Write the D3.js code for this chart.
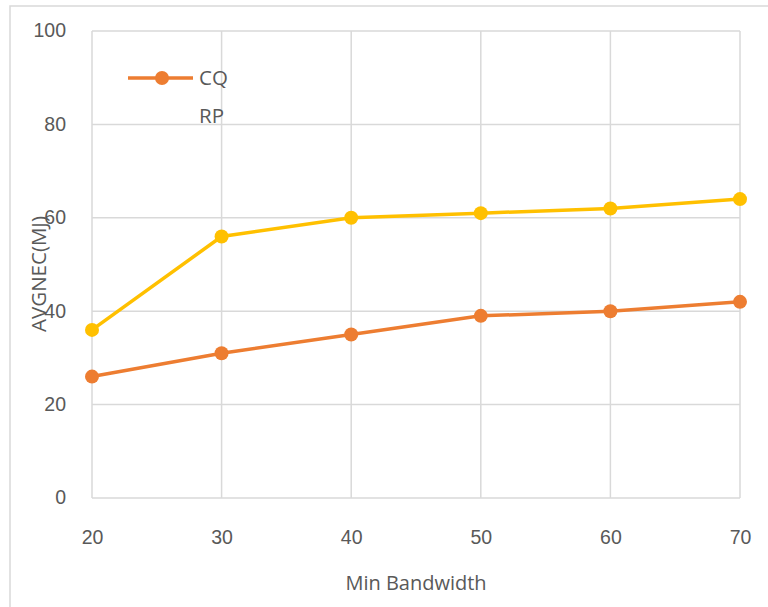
<!DOCTYPE html>
<html>
<head>
<meta charset="utf-8">
<script src="https://cdn.jsdelivr.net/npm/d3@7"></script>
<style>
  body { margin: 0; background: #fff; }
  svg { display: block; font-family: 'Open Sans', 'Liberation Sans', sans-serif; }
  .tick text { fill: #595959; font-size: 19.5px; }
</style>
</head>
<body>
<svg id="chart"></svg>
<script>
// data
const bandwidth = [20, 30, 40, 50, 60, 70];
const cq = [26, 31, 35, 39, 40, 42];
const rp = [36, 56, 60, 61, 62, 64];
const yTicks = [0, 20, 40, 60, 80, 100];

const W = 768, H = 607;
const svg = d3.select('#chart').attr('width', W).attr('height', H);

const margin = {top: 31, right: 28, bottom: 109, left: 92},
    width = W - margin.left - margin.right,
    height = H - margin.top - margin.bottom;

// outer chart frame
svg.append('rect')
  .attr('x', 10).attr('y', 6)
  .attr('width', W + 20).attr('height', H + 20)
  .attr('fill', 'none')
  .attr('stroke', '#d9d9d9')
  .attr('stroke-width', 1.5);

const g = svg.append('g')
  .attr('transform', 'translate(' + margin.left + ',' + margin.top + ')');

const x = d3.scaleLinear().domain([20, 70]).range([0, width]);
const y = d3.scaleLinear().domain([0, 100]).range([height, 0]);

// gridlines
g.append('g')
  .selectAll('line.hgrid')
  .data(yTicks)
  .enter().append('line')
  .attr('x1', 0).attr('x2', width)
  .attr('y1', d => y(d)).attr('y2', d => y(d))
  .attr('stroke', '#d9d9d9').attr('stroke-width', 1.5);

g.append('g')
  .selectAll('line.vgrid')
  .data(bandwidth)
  .enter().append('line')
  .attr('y1', 0).attr('y2', height)
  .attr('x1', d => x(d)).attr('x2', d => x(d))
  .attr('stroke', '#d9d9d9').attr('stroke-width', 1.5);

// axes (labels only)
const xAxis = g.append('g')
  .attr('transform', 'translate(0,' + height + ')')
  .call(d3.axisBottom(x).tickValues(bandwidth).tickSize(0).tickPadding(32));
xAxis.select('.domain').remove();

const yAxis = g.append('g')
  .call(d3.axisLeft(y).tickValues(yTicks).tickSize(0).tickPadding(26));
yAxis.select('.domain').remove();
yAxis.selectAll('.tick text').attr('dy', '0.3em');

// axis titles
svg.append('text')
  .attr('x', margin.left + width / 2)
  .attr('y', 590)
  .attr('text-anchor', 'middle')
  .attr('fill', '#595959')
  .attr('font-size', 20)
  .text('Min Bandwidth');

svg.append('text')
  .attr('transform', 'translate(46,274) rotate(-90)')
  .attr('text-anchor', 'middle')
  .attr('fill', '#595959')
  .attr('font-size', 20.5)
  .text('AVGNEC(MJ)');

// series
const series = [
  {name: 'CQ', values: cq, color: '#ED7D31'},
  {name: 'RP', values: rp, color: '#FFC000'}
];

const line = d3.line()
  .x((d, i) => x(bandwidth[i]))
  .y(d => y(d));

series.forEach(s => {
  g.append('path')
    .datum(s.values)
    .attr('fill', 'none')
    .attr('stroke', s.color)
    .attr('stroke-width', 3.5)
    .attr('d', line);

  g.selectAll('.pt-' + s.name)
    .data(s.values)
    .enter().append('circle')
    .attr('class', 'pt-' + s.name)
    .attr('cx', (d, i) => x(bandwidth[i]))
    .attr('cy', d => y(d))
    .attr('r', 7)
    .attr('fill', s.color);
});

// legend
const legend = svg.append('g').attr('transform', 'translate(128,78)');
legend.append('line')
  .attr('x1', 0).attr('x2', 65)
  .attr('stroke', '#ED7D31').attr('stroke-width', 3.5);
legend.append('circle')
  .attr('cx', 34).attr('r', 7).attr('fill', '#ED7D31');
legend.append('text')
  .attr('x', 71).attr('y', 7)
  .attr('fill', '#595959').attr('font-size', 20.5)
  .text('CQ');
legend.append('text')
  .attr('x', 71).attr('y', 45)
  .attr('fill', '#595959').attr('font-size', 20.5)
  .text('RP');
</script>
</body>
</html>
